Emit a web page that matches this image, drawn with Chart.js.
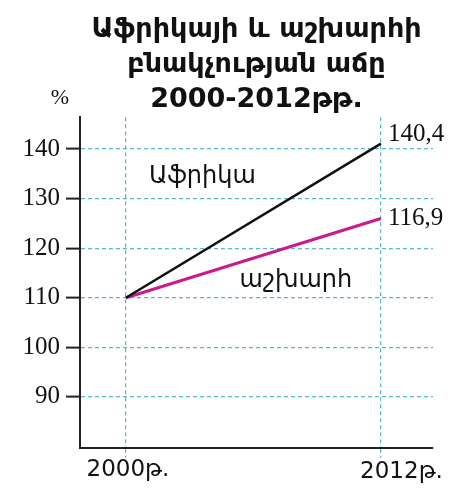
<!DOCTYPE html>
<html>
<head>
<meta charset="utf-8">
<script src="https://cdn.jsdelivr.net/npm/chart.js@4"></script>
<style>
  html, body { margin: 0; padding: 0; background: #fff; }
  #wrap { width: 456px; height: 492px; }
</style>
</head>
<body>
<div id="wrap"><canvas id="popChart" width="456" height="492"></canvas></div>
<script>
// data
const years = [2000, 2012];
const africa = [110, 141.1];
const world = [110, 126.0];
const seriesNames = ['Աֆրիկա', 'աշխարհ'];
const endLabels = ['140,4', '116,9'];
const yTicks = [90, 100, 110, 120, 130, 140];
const xLabels = ['2000թ.', '2012թ.'];
const titleLines = ['Աֆրիկայի և աշխարհի', 'բնակչության աճը', '2000-2012թթ.'];

const gridColor = '#5db6c6';
const serif = '"Liberation Serif", "DejaVu Serif", serif';
const sans = '"DejaVu Sans", "Noto Sans", sans-serif';

// where the series names sit (in data units)
const namePos = [[2003.6, 134.4], [2008.0, 113.4]];

const textPlugin = {
  id: 'texts',
  afterDraw(chart) {
    const ctx = chart.ctx;
    const xs = chart.scales.x, ys = chart.scales.y;
    const area = chart.chartArea;
    ctx.save();
    ctx.fillStyle = '#111';

    // % sign above the y axis
    ctx.font = '22px ' + serif;
    ctx.textAlign = 'center';
    ctx.textBaseline = 'middle';
    ctx.fillText('%', area.left - 20, area.top - 19);

    // end values
    ctx.font = '25px ' + serif;
    ctx.textAlign = 'left';
    const ends = [africa[africa.length - 1], world[world.length - 1]];
    ends.forEach((v, i) => {
      const dy = i === 0 ? -9 : 0;
      ctx.fillText(endLabels[i], xs.getPixelForValue(years[years.length - 1]) + 7, ys.getPixelForValue(v) + dy);
    });

    // series names
    ctx.font = '24px ' + sans;
    ctx.textAlign = 'center';
    seriesNames.forEach((n, i) => {
      ctx.fillText(n, xs.getPixelForValue(namePos[i][0]), ys.getPixelForValue(namePos[i][1]));
    });

    // x labels
    ctx.font = '23px ' + sans;
    ctx.textBaseline = 'middle';
    xLabels.forEach((l, i) => {
      const px = xs.getPixelForValue(years[i]);
      if (i === 0) {
        ctx.textAlign = 'center';
        ctx.fillText(l, px + 2, area.bottom + 22);
      } else {
        ctx.textAlign = 'right';
        ctx.fillText(l, px + 62, area.bottom + 24);
      }
    });
    ctx.restore();
  }
};

const ctx = document.getElementById('popChart').getContext('2d');

new Chart(ctx, {
  type: 'line',
  data: {
    datasets: [
      {
        label: seriesNames[0],
        data: years.map((y, i) => ({ x: y, y: africa[i] })),
        borderColor: '#111',
        borderWidth: 2.5,
        pointRadius: 0,
        fill: false
      },
      {
        label: seriesNames[1],
        data: years.map((y, i) => ({ x: y, y: world[i] })),
        borderColor: '#c81c8c',
        borderWidth: 3,
        pointRadius: 0,
        fill: false
      }
    ]
  },
  options: {
    responsive: false,
    animation: false,
    layout: { padding: { top: 0, right: 23, bottom: 0, left: 0 } },
    plugins: {
      legend: { display: false },
      tooltip: { enabled: false },
      title: {
        display: true,
        fullSize: false,
        text: titleLines,
        color: '#111',
        font: { family: sans, size: 27, weight: 'bold', lineHeight: 1.3 },
        padding: { top: 12, bottom: 0 }
      }
    },
    scales: {
      x: {
        type: 'linear',
        min: 1997.84,
        max: 2014.45,
        afterBuildTicks: s => { s.ticks = years.map(v => ({ value: v })); },
        afterFit: s => { s.height = 44; },
        ticks: { display: false },
        grid: {
          color: gridColor,
          lineWidth: 1.2,
          tickLength: 10,
          tickColor: gridColor,
          tickBorderDash: [4, 3]
        },
        border: { display: true, color: '#222', width: 2, dash: [4, 3] }
      },
      y: {
        min: 79.7,
        max: 146.4,
        afterBuildTicks: s => { s.ticks = yTicks.map(v => ({ value: v })); },
        afterFit: s => { s.width = 80; },
        ticks: {
          color: '#111',
          padding: 6,
          font: { family: serif, size: 25 }
        },
        grid: {
          color: gridColor,
          lineWidth: 1.2,
          tickLength: 14,
          tickColor: '#222',
          tickWidth: 2,
          tickBorderDash: []
        },
        border: { display: true, color: '#222', width: 2, dash: [4, 3] }
      }
    }
  },
  plugins: [textPlugin]
});
</script>
</body>
</html>
